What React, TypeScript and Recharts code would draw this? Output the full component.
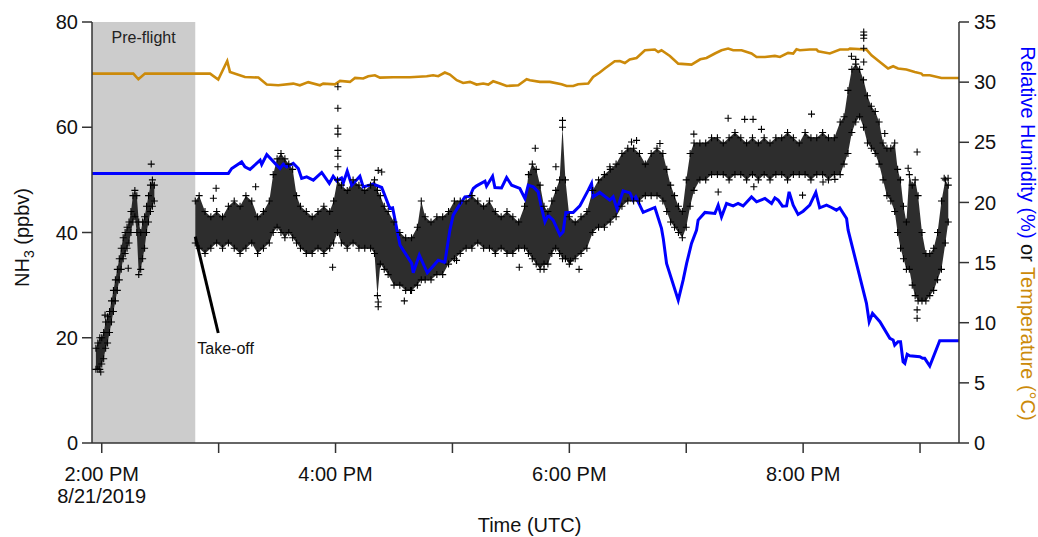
import React from 'react';
import {
  ComposedChart,
  XAxis,
  YAxis,
  Line,
  Area,
  Scatter,
  ReferenceArea,
  ReferenceLine,
  ReferenceDot,
  Label,
} from 'recharts';

const FONT = '"Liberation Sans", Arial, Helvetica, sans-serif';
const AXIS = '#333333';
const BLUE = '#0000FF';
const ORANGE = '#CC8A0A';

// time is minutes after 2:00 PM UTC, 8/21/2019
const tickMinutes = [0, 60, 120, 180, 240, 300, 360, 420];
const tickLabels = ['2:00 PM', '', '4:00 PM', '', '6:00 PM', '', '8:00 PM', ''];
const dateLabel = '8/21/2019';
const leftTicks = [0, 20, 40, 60, 80];
const rightTicks = [0, 5, 10, 15, 20, 25, 30, 35];

// NH3 (ppbv): lower / upper edge of the dense point cloud
const preMinutes = [-3, -2, -1, 0, 1, 2, 3, 4, 5, 6, 7, 8, 9, 10, 11, 12, 13, 14, 15, 16, 17, 18, 19, 20, 21, 22, 23, 24, 25, 26, 27];
const preLow = [14, 14, 14, 15, 16, 18, 19, 21, 23, 25, 27, 29, 31, 33, 35, 36, 37, 38, 40, 42, 43, 40, 32, 33, 35, 37, 40, 42, 44, 45, 46];
const preHigh = [18, 19, 20, 20, 21, 23, 24, 25, 27, 29, 31, 33, 35, 37, 39, 40, 41, 42, 44, 47, 48, 47, 42, 40, 42, 43, 45, 47, 49, 50, 49];

const flightMinutes = [
  48, 50, 53, 56, 59, 62, 65, 68, 71, 74,
  77, 80, 83, 86, 88, 90, 92, 94, 96, 98,
  100, 102, 105, 108, 111, 114, 117, 119, 121, 123,
  126, 129, 132, 135, 138, 140, 141.5, 143, 145, 147,
  150, 153, 156, 159, 162, 164, 166, 169, 172, 175,
  178, 181, 184, 187, 190, 193, 196, 199, 202, 205,
  208, 211, 214, 217, 219, 221, 223, 225, 227, 229,
  231, 233, 235, 236.5, 238, 240, 243, 246, 249, 252,
  255, 258, 261, 264, 267, 270, 273, 276, 279, 282,
  285, 288, 290, 292, 294, 296, 298, 300, 302, 304,
  307, 310, 313, 316, 319, 322, 325, 328, 331, 334,
  337, 340, 343, 346, 349, 352, 355, 358, 361, 364,
  367, 370, 373, 376, 379, 381, 383, 385, 387, 389,
  391, 393, 395, 397, 399, 401, 403, 405, 407, 408.5,
  410, 411.5, 413, 414.5, 416, 417.5, 419, 421, 423, 425,
  427, 429, 431, 433, 434.5,
];
const flightLow = [
  38, 37, 36, 37, 38, 37, 38, 37, 36, 37,
  38, 36, 37, 38, 40, 41, 40, 39, 40, 39,
  38, 37, 36, 36, 37, 36, 37, 38, 40, 38,
  37, 38, 37, 37, 37, 36, 28, 34, 33, 32,
  30, 30, 29, 29, 30, 31, 31, 31, 32, 32,
  34, 35, 36, 37, 37, 38, 37, 37, 36, 37,
  36, 36, 37, 37, 36, 35, 34, 33, 34, 34,
  36, 37, 36, 35, 35, 34, 35, 36, 37, 40,
  41, 41, 42, 43, 45, 46, 46, 46, 47, 47,
  47, 46, 44, 42, 41, 40, 39, 41, 45, 48,
  50, 50, 51, 51, 51, 50, 51, 51, 50, 51,
  50, 51, 50, 51, 51, 50, 51, 51, 51, 50,
  51, 51, 50, 51, 51, 53, 55, 59, 61, 62,
  60, 57, 56, 55, 53, 50, 47, 46, 44, 40,
  37, 35, 33, 33, 30, 28, 27, 27, 27, 28,
  29, 31, 33, 38, 42,
];
const flightHigh = [
  46, 47, 44, 43, 44, 43, 45, 46, 45, 47,
  46, 43, 44, 46, 51, 54, 55, 54, 53, 52,
  47, 45, 44, 43, 44, 45, 44, 46, 50, 49,
  48, 50, 49, 48, 49, 50, 48, 47, 45, 44,
  42, 40, 39, 39, 41, 46, 43, 42, 43, 43,
  44, 46, 46, 46, 47, 46, 45, 46, 44, 43,
  44, 43, 42, 45, 51, 53, 52, 49, 45, 44,
  46, 48, 50, 60, 50, 43, 42, 43, 44, 48,
  50, 51, 52, 53, 55, 56, 56, 55, 53, 55,
  56, 55, 52, 49, 47, 45, 44, 50, 55, 57,
  57, 57, 58, 58, 57, 58, 59, 58, 57, 58,
  57, 58, 57, 58, 58, 59, 58, 57, 59, 58,
  58, 59, 58, 58, 61, 62, 67, 71, 72, 71,
  69, 66, 64, 63, 61, 57, 56, 56, 57, 52,
  50, 45, 42, 51, 49, 50, 47, 40, 36, 36,
  37, 40, 46, 50, 49,
];

// isolated NH3 points outside the dense cloud
const outlierMinutes = [
  25.4, -0.5, 1.7, 13.6, 57.3, 58.7, 79, 118.5,
  121.2, 121.2, 121.2, 121.2, 121.2, 121.2, 121.2,
  141.9, 143.7, 141.9, 141.9, 155.3, 158.5, 182.1, 214.3, 222.5,
  233.1, 236.5, 227, 240.6, 245, 260.8, 271.9, 274.5, 286.5, 303.9,
  316.4, 321.5, 330, 334.3, 334.7, 338.6, 359.7, 364.3, 370.2, 376.3,
  384.8, 387, 391.1, 391.1, 391.1, 391.1, 391.1,
  401.9, 413.9, 418.5, 418.5, 418.5, 432.4, 434.4,
];
const outlierValues = [
  53, 13.5, 24.3, 33.2, 46.5, 48.4, 48.7, 33.4,
  67.7, 63.6, 59.8, 58.7, 55.6, 54.5, 52.5,
  51.8, 51.5, 25.9, 26.8, 27.0, 29.0, 34.7, 33.4, 56.0,
  52.5, 61.3, 33.0, 34.6, 33.0, 52.5, 57.2, 57.5, 56.9, 58.7,
  47.7, 61.7, 61.5, 61.5, 48.7, 59.6, 47.1, 62.5, 49.6, 50.1,
  73.5, 72.9, 78.1, 77.5, 76.9, 75.0, 72.4,
  58.8, 52.2, 55.3, 25.3, 23.7, 50.3, 50.3,
];

// Relative humidity (%)
const rhMinutes = [
  -5, 65.0, 66.7, 71.8, 73.5, 76.1, 81.3, 82.1, 84.7, 89.8,
  91.5, 93.2, 94.9, 98.3, 100.9, 102.6, 105.2, 108.6, 112.9, 116.8,
  118.8, 120.6, 123.1, 124.0, 126.0, 128.3, 132.5, 134.2, 139.4, 143.7,
  147.9, 149.3, 153.1, 159.1, 159.9, 163.0, 167.1, 172.7, 176.1, 178.7,
  180.4, 183.0, 186.4, 189.0, 190.7, 192.4, 196.7, 197.5, 200.6, 201.8,
  205.2, 207.8, 210.4, 214.6, 217.2, 218.9, 221.5, 224.0, 225.8, 227.5,
  229.1, 231.7, 235.2, 236.8, 238.2, 242.0, 245.4, 249.7, 251.4, 252.2,
  255.6, 260.8, 262.5, 264.5, 267.6, 271.1, 272.8, 274.1, 277.9, 283.9,
  287.3, 288.2, 289.9, 295.9, 298.4, 300.2, 302.7, 305.3, 306.1, 309.6,
  314.7, 316.4, 318.1, 320.7, 324.1, 326.6, 329.2, 333.5, 336.1, 340.4,
  343.8, 345.5, 347.2, 349.4, 351.5, 352.8, 354.9, 357.4, 360.0, 363.4,
  366.5, 368.5, 372.0, 374.6, 377.1, 378.8, 382.3, 383.1, 392.5, 393.9,
  395.6, 399.4, 404.5, 406.2, 407.0, 408.7, 410.0, 411.3, 412.2, 413.4,
  414.7, 419.9, 421.3, 422.4, 425.0, 430.1, 440,
];
const rhValues = [
  22.41, 22.41, 22.82, 23.37, 22.95, 22.74, 23.51, 23.15, 23.98, 23.10,
  22.82, 23.18, 22.95, 23.24, 22.82, 21.99, 22.12, 21.85, 22.49, 21.58,
  22.18, 21.79, 22.04, 21.63, 22.60, 21.43, 22.18, 21.29, 21.52, 21.24,
  19.50, 19.55, 16.45, 14.93, 14.15, 15.62, 14.15, 15.20, 15.01, 17.70,
  18.94, 19.63, 20.46, 20.52, 21.16, 21.38, 21.77, 21.35, 22.18, 21.24,
  21.21, 22.07, 21.43, 21.16, 20.33, 21.43, 21.29, 20.88, 19.50, 18.39,
  18.94, 18.53, 17.28, 17.55, 19.17, 19.17, 19.71, 21.02, 21.58, 20.46,
  20.83, 20.19, 20.46, 19.44, 20.96, 20.79, 20.19, 20.46, 19.17, 19.58,
  17.84, 17.01, 14.93, 11.88, 13.54, 14.93, 16.59, 17.70, 18.53, 19.17,
  19.08, 19.77, 18.80, 19.91, 19.71, 19.91, 19.71, 20.46, 20.05, 20.33,
  19.91, 20.38, 20.19, 19.69, 19.71, 20.88, 19.77, 19.00, 19.27, 19.77,
  20.83, 19.55, 19.77, 19.58, 19.36, 19.55, 18.67, 17.70, 11.61, 10.08,
  10.78, 10.08, 8.70, 8.56, 8.14, 8.42, 8.42, 6.76, 6.62, 7.37,
  7.25, 7.17, 7.04, 7.04, 6.40, 8.50, 8.50,
];

// Temperature (°C)
const tempMinutes = [
  -5, 16.2, 18.8, 22.2, 55.6, 59.8, 64.4, 65.8, 73.5, 80.4,
  84.7, 90.6, 98.3, 101.7, 106, 112, 113.7, 119.7, 122.3, 127.4,
  130, 134.2, 136.8, 140.2, 142.8, 149.6, 158.2, 166.8, 170.1, 172.7,
  176.1, 178.7, 182.2, 185.5, 189, 192.4, 195.8, 198.4, 200.9, 204.4,
  207.8, 213.8, 218.1, 219.8, 224.9, 230, 236, 238.6, 242, 244.5,
  249.7, 252.2, 255.6, 258.2, 263.3, 265.9, 268.5, 271, 274.5, 278.8,
  283.9, 285.6, 287.3, 291.6, 295.9, 302.7, 307.2, 310.4, 314.7, 318.1,
  321.5, 324.1, 328.4, 333.5, 336.1, 340.4, 345.5, 348.1, 352.3, 354.9,
  356.6, 358.3, 363.4, 366.9, 367.7, 373.7, 378.9, 383.1, 384, 392.5,
  395.1, 399.4, 403.6, 406.2, 408.7, 413, 417.3, 420.7, 421.5, 425,
  431, 440,
];
const tempValues = [
  30.71, 30.71, 30.24, 30.71, 30.71, 30.22, 31.76, 30.85, 30.43, 30.38,
  29.8, 29.74, 29.88, 29.74, 30.0, 29.74, 29.88, 29.82, 30.1, 30.02,
  30.35, 30.3, 30.49, 30.57, 30.38, 30.41, 30.41, 30.49, 30.57, 30.49,
  30.8, 30.63, 30.16, 29.93, 30.02, 29.8, 29.88, 29.8, 30.07, 29.88,
  29.68, 29.74, 30.24, 30.16, 30.02, 30.02, 29.82, 29.68, 29.68, 29.82,
  29.88, 30.43, 30.8, 31.13, 31.74, 31.76, 31.59, 31.88, 32.01, 32.65,
  32.71, 32.51, 32.65, 32.18, 31.54, 31.46, 31.9, 32.01, 32.38, 32.65,
  32.79, 32.65, 32.65, 32.38, 32.09, 32.09, 32.18, 32.09, 32.43, 32.38,
  32.73, 32.65, 32.71, 32.71, 32.57, 32.38, 32.71, 32.71, 32.79, 32.71,
  32.23, 31.68, 31.13, 31.32, 31.13, 31.05, 30.85, 30.71, 30.57, 30.57,
  30.35, 30.35,
];

const toPoints = (ts: number[], vs: number[]) => ts.map((t, i) => ({ t, v: vs[i] }));
const toBand = (ts: number[], lo: number[], hi: number[]) =>
  ts.map((t, i) => ({ t, range: [lo[i], hi[i]] }));
const toEdges = (ts: number[], lo: number[], hi: number[]) =>
  ts.flatMap((t, i) => [{ t, v: lo[i] }, { t, v: hi[i] }]);

const preBand = toBand(preMinutes, preLow, preHigh);
const flightBand = toBand(flightMinutes, flightLow, flightHigh);
const nh3Edges = [
  ...toEdges(preMinutes, preLow, preHigh),
  ...toEdges(flightMinutes, flightLow, flightHigh),
];
const outliers = toPoints(outlierMinutes, outlierValues);
const rhPoints = toPoints(rhMinutes, rhValues);
const tempPoints = toPoints(tempMinutes, tempValues);

const Plus = (props: any) => {
  const { cx, cy } = props;
  if (cx == null || cy == null) return null;
  return (
    <path
      d={`M${cx - 3.5},${cy}H${cx + 3.5}M${cx},${cy - 3.5}V${cy + 3.5}`}
      stroke="#000"
      strokeWidth={1.1}
      fill="none"
    />
  );
};

const TimeTick = (props: any) => {
  const { x, y, payload } = props;
  const idx = tickMinutes.indexOf(payload.value);
  const label = tickLabels[idx];
  if (!label) return <g />;
  return (
    <g>
      <text x={x} y={y + 26} textAnchor="middle" fontSize={20} fontFamily={FONT} fill="#111">
        {label}
      </text>
      {idx === 0 && (
        <text x={x} y={y + 48} textAnchor="middle" fontSize={20} fontFamily={FONT} fill="#111">
          {dateLabel}
        </text>
      )}
    </g>
  );
};

const tickStyle = { fontSize: 20, fill: '#111', fontFamily: FONT };

export default function App() {
  return (
    <div style={{ position: 'absolute', left: 0, top: 0, width: 1038, height: 537, background: '#fff' }}>
      <ComposedChart width={1038} height={537} margin={{ top: 22, right: 0, bottom: 0, left: 0 }}>
        <XAxis
          dataKey="t"
          type="number"
          domain={[-5, 440]}
          allowDataOverflow
          ticks={tickMinutes}
          interval={0}
          tick={(p: any) => <TimeTick {...p} />}
          tickSize={10}
          height={94}
          axisLine={{ stroke: AXIS, strokeWidth: 1.5 }}
          tickLine={{ stroke: AXIS, strokeWidth: 1.5 }}
        >
          <Label
            content={(p: any) => {
              const vb = p.viewBox;
              return (
                <text x={vb.x + vb.width / 2 + 4} y={vb.y + 89} textAnchor="middle" fontSize={20} fontFamily={FONT} fill="#111">
                  Time (UTC)
                </text>
              );
            }}
          />
        </XAxis>
        <YAxis
          yAxisId="left"
          type="number"
          domain={[0, 80]}
          ticks={leftTicks}
          width={92}
          tickSize={10}
          tickMargin={4}
          tick={tickStyle}
          axisLine={{ stroke: AXIS, strokeWidth: 1.5 }}
          tickLine={{ stroke: AXIS, strokeWidth: 1.5 }}
        >
          <Label
            content={(p: any) => {
              const vb = p.viewBox;
              const cy = vb.y + vb.height / 2 + 5;
              return (
                <text transform={`translate(29, ${cy}) rotate(-90)`} textAnchor="middle" fontSize={20} fontFamily={FONT} fill="#111">
                  NH<tspan fontSize={14} dy={5}>3</tspan>
                  <tspan dy={-5}> (ppbv)</tspan>
                </text>
              );
            }}
          />
        </YAxis>
        <YAxis
          yAxisId="right"
          orientation="right"
          type="number"
          domain={[0, 35]}
          ticks={rightTicks}
          width={79}
          tickSize={10}
          tickMargin={5}
          tick={tickStyle}
          axisLine={{ stroke: AXIS, strokeWidth: 1.5 }}
          tickLine={{ stroke: AXIS, strokeWidth: 1.5 }}
        >
          <Label
            content={(p: any) => {
              const vb = p.viewBox;
              const cy = vb.y + vb.height / 2 + 1;
              return (
                <text transform={`translate(1021, ${cy}) rotate(90)`} textAnchor="middle" fontSize={20} fontFamily={FONT}>
                  <tspan fill={BLUE}>Relative Humidity (%)</tspan>
                  <tspan fill="#111"> or </tspan>
                  <tspan fill={ORANGE}>Temperature (°C)</tspan>
                </text>
              );
            }}
          />
        </YAxis>

        <ReferenceArea
          x1={-5}
          x2={48}
          y1={0}
          y2={80}
          yAxisId="left"
          fill="#cccccc"
          fillOpacity={1}
          stroke="none"
          label={
            <Label
              content={(p: any) => {
                const vb = p.viewBox;
                return (
                  <text x={vb.x + vb.width / 2} y={vb.y + 21} textAnchor="middle" fontSize={16} fontFamily={FONT} fill="#222">
                    Pre-flight
                  </text>
                );
              }}
            />
          }
        />

        <Area data={preBand} dataKey="range" yAxisId="left" stroke="none" fill="#161616" fillOpacity={0.9} isAnimationActive={false} />
        <Area data={flightBand} dataKey="range" yAxisId="left" stroke="none" fill="#161616" fillOpacity={0.9} isAnimationActive={false} />
        <Scatter data={nh3Edges} dataKey="v" yAxisId="left" shape={(p: any) => <Plus {...p} />} isAnimationActive={false} />
        <Scatter data={outliers} dataKey="v" yAxisId="left" shape={(p: any) => <Plus {...p} />} isAnimationActive={false} />

        <Line data={rhPoints} dataKey="v" yAxisId="right" type="linear" stroke={BLUE} strokeWidth={3} dot={false} isAnimationActive={false} />
        <Line data={tempPoints} dataKey="v" yAxisId="right" type="linear" stroke={ORANGE} strokeWidth={2.6} dot={false} isAnimationActive={false} />

        <ReferenceLine
          yAxisId="left"
          segment={[{ x: 48, y: 39.2 }, { x: 59.8, y: 20.9 }]}
          stroke="#000"
          strokeWidth={3}
          ifOverflow="visible"
        />
        <ReferenceDot
          yAxisId="left"
          x={59.8}
          y={20.9}
          r={0}
          fill="none"
          stroke="none"
          label={
            <Label
              content={(p: any) => {
                const vb = p.viewBox;
                return (
                  <text x={vb.x - 21} y={vb.y + 21} fontSize={16} fontFamily={FONT} fill="#111">
                    Take-off
                  </text>
                );
              }}
            />
          }
        />
      </ComposedChart>
    </div>
  );
}
